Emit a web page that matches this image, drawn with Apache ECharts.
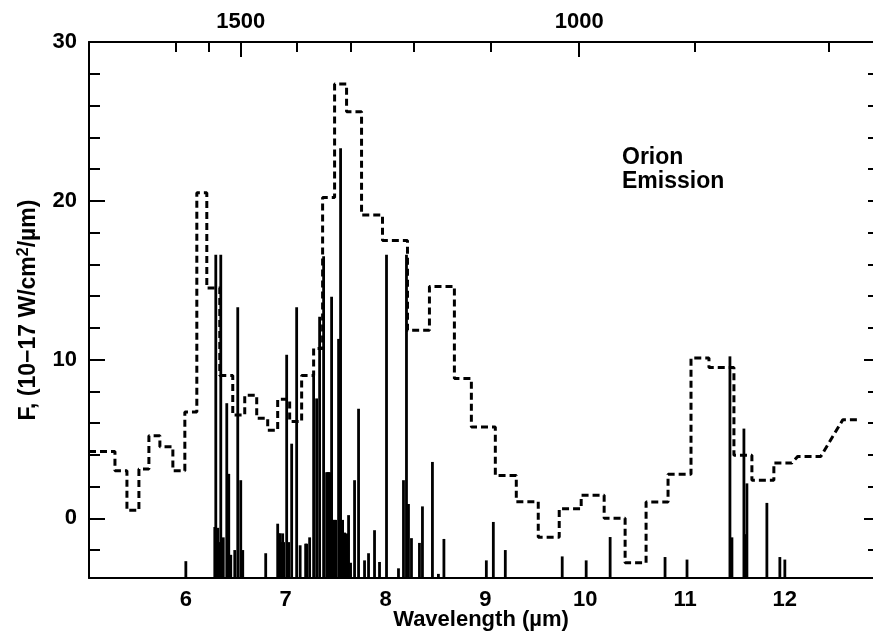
<!DOCTYPE html>
<html><head><meta charset="utf-8">
<script src="https://cdn.jsdelivr.net/npm/echarts@6/dist/echarts.min.js"></script>
<style>html,body{margin:0;padding:0;background:#fff}#c{width:873px;height:637px}</style>
</head><body><div id="c"></div>
<script>
// ---- Orion emission (dashed step spectrum): bin edges in µm and bin levels ----
const binEdges = [5.03,5.29,5.41,5.53,5.63,5.74,5.87,5.99,6.11,6.21,6.34,6.47,6.59,6.71,6.82,6.92,7.04,7.16,7.28,7.37,7.49,7.61,7.76,7.97,8.22,8.44,8.69,8.86,9.10,9.31,9.53,9.74,9.96,10.19,10.40,10.61,10.83,11.06,11.24,11.49,11.67,11.89];
const binLevels = [4.2,3.0,0.5,3.1,5.2,4.5,3.0,6.7,20.5,14.5,9.0,6.5,7.75,6.3,5.55,7.5,6.1,9.0,10.7,20.2,27.35,25.6,19.1,17.5,11.85,14.6,8.8,5.75,2.7,1.05,-1.2,0.6,1.45,0.0,-2.8,1.03,2.77,10.1,9.5,3.97,2.39];
// tail of the emission curve (non-step part)
const tailX = [11.89,12.07,12.13,12.36,12.58,12.73];
const tailY = [3.49,3.49,3.9,3.9,6.2,6.2];

// ---- computed line spectrum (sticks): wavelength µm and height ----
const stickX = [6.00,6.29,6.30,6.32,6.34,6.35,6.36,6.375,6.41,6.43,6.45,6.49,6.52,6.55,6.57,6.80,
  6.92,6.935,6.945,6.955,6.97,6.98,7.01,7.03,7.06,7.11,7.145,7.20,7.21,7.24,7.28,7.31,7.34,7.38,
  7.41,7.42,7.43,7.44,7.46,7.47,7.49,7.50,7.53,7.55,7.57,7.59,7.61,7.63,7.65,7.69,7.73,7.79,7.83,7.89,7.94,
  8.01,8.13,8.18,8.21,8.23,8.26,8.34,8.37,8.47,8.53,8.585,9.01,9.08,9.20,9.77,10.01,10.25,10.80,11.02,
  11.45,11.47,11.59,11.60,11.62,11.82,11.95,12.00];
const stickH = [-2.7,-0.55,16.6,-0.6,-1.5,16.6,-2.0,-1.2,7.25,2.8,-2.3,-2.0,13.3,2.4,-2.0,-2.2,
  -0.34,-0.95,-0.95,-1.5,-0.95,-1.5,10.3,-1.5,4.7,13.3,-1.7,-1.6,-1.6,-1.2,9.0,7.55,12.7,16.5,
  2.9,2.9,2.9,2.9,13.95,-0.1,-0.1,-0.1,11.3,23.3,-0.1,-0.9,-0.95,0.2,-2.8,2.4,6.9,-2.65,-2.2,-0.75,-2.75,
  16.6,-3.15,2.4,16.6,0.9,-1.25,-1.55,0.75,3.55,-3.5,-1.3,-2.65,-0.23,-2.0,-2.4,-2.65,-1.18,-2.44,-2.6,
  10.2,-1.2,5.65,-1.0,2.2,0.97,-2.44,-2.6];

// ---- axes ----
const xMin = 5.03, xMax = 12.883;
const yMin = -3.76, yMax = 30;
const xLabels = [6,7,8,9,10,11,12];
const yLabels = [0,10,20,30];
const yMinorTicks = [-2,2,4,6,8,12,14,16,18,22,24,26,28];
const yRightMajor = [0,10];
const yRightMinor = [-2,2,4,6,8,12,14,16,18,20,22,24,26,28];
// top axis (wavenumber, cm^-1), positions as read on the wavelength scale
const topMajorPos = [6.55,9.94];
const topLabels = ['1500','1000'];
const topMinorPos = [5.90,6.23,7.11,7.65,8.28,9.05,11.10,12.44];

const FONT = '"Liberation Sans", Arial, Helvetica, sans-serif';

const stepPts = [];
for (let i = 0; i < binLevels.length; i++) {
  stepPts.push([binEdges[i], binLevels[i]]);
  stepPts.push([binEdges[i+1], binLevels[i]]);
}
for (let i = 0; i < tailX.length; i++) stepPts.push([tailX[i], tailY[i]]);

const sticks = stickX.map((x, i) => [x, stickH[i]]);

const lab = {color:'#000', fontFamily:FONT, fontWeight:'bold', fontSize:22};
const line = {show:true, onZero:false, lineStyle:{color:'#000', width:2}};
const noLine = {show:false, onZero:false};

const chart = echarts.init(document.getElementById('c'), null, {renderer:'canvas'});
chart.setOption({
  animation:false,
  backgroundColor:'#fff',
  grid:{left:89, right:0, top:42, bottom:59, containLabel:false, outerBoundsMode:'none'},
  xAxis:[
    {type:'value', min:xMin, max:xMax, position:'bottom',
     axisLine:line, axisTick:{show:false}, splitLine:{show:false},
     axisLabel:Object.assign({customValues:xLabels, margin:11}, lab),
     name:'Wavelength (µm)', nameLocation:'middle', nameGap:31, nameMoveOverlap:false,
     nameTextStyle:{color:'#000', fontFamily:FONT, fontWeight:'bold', fontSize:22}},
    {type:'value', min:xMin, max:xMax, position:'top',
     axisLine:line, splitLine:{show:false},
     axisTick:{show:true, inside:true, length:10, customValues:topMinorPos, lineStyle:{color:'#000', width:2}},
     axisLabel:{show:false}},
    {type:'value', min:xMin, max:xMax, position:'top',
     axisLine:noLine, splitLine:{show:false},
     axisTick:{show:true, inside:true, length:15, customValues:topMajorPos, lineStyle:{color:'#000', width:2}},
     axisLabel:Object.assign({customValues:topMajorPos, margin:9,
       formatter:v => { let k=0, d=1e9; topMajorPos.forEach((p,i)=>{ if (Math.abs(p-v)<d){d=Math.abs(p-v);k=i;} }); return topLabels[k]; }}, lab)}
  ],
  yAxis:[
    {type:'value', min:yMin, max:yMax, position:'left',
     axisLine:line, splitLine:{show:false},
     axisTick:{show:true, inside:true, length:16, customValues:yLabels, lineStyle:{color:'#000', width:2}},
     axisLabel:Object.assign({customValues:yLabels, margin:12}, lab),
     name:'F, (10−17 W/cm{sup|2}/µm)', nameLocation:'middle', nameGap:48, nameMoveOverlap:false,
     nameTextStyle:{color:'#000', fontFamily:FONT, fontWeight:'bold', fontSize:23,
       rich:{sup:{fontFamily:FONT, fontWeight:'bold', fontSize:16, verticalAlign:'top', padding:[0,0,9,0]}}}},
    {type:'value', min:yMin, max:yMax, position:'left',
     axisLine:noLine, splitLine:{show:false},
     axisTick:{show:true, inside:true, length:11, customValues:yMinorTicks, lineStyle:{color:'#000', width:2}},
     axisLabel:{show:false}},
    {type:'value', min:yMin, max:yMax, position:'right',
     axisLine:noLine, splitLine:{show:false},
     axisTick:{show:true, inside:true, length:5, customValues:yRightMinor, lineStyle:{color:'#000', width:2}},
     axisLabel:{show:false}},
    {type:'value', min:yMin, max:yMax, position:'right',
     axisLine:noLine, splitLine:{show:false},
     axisTick:{show:true, inside:true, length:9, customValues:yRightMajor, lineStyle:{color:'#000', width:2}},
     axisLabel:{show:false}}
  ],
  graphic:[
    {type:'text', left:622, top:146,
     style:{text:'Orion\nEmission', fill:'#000', font:'bold 23px ' + FONT, lineHeight:24}}
  ],
  series:[
    {type:'custom', name:'Lines', xAxisIndex:0, yAxisIndex:0, data:sticks, clip:true,
     encode:{x:0, y:1},
     renderItem:(params, api) => {
       const x = api.value(0), h = api.value(1);
       const p0 = api.coord([x, yMin]);
       const p1 = api.coord([x, h]);
       return {type:'line', shape:{x1:p0[0], y1:p0[1], x2:p1[0], y2:p1[1]},
               style:{stroke:'#000', lineWidth:2.8}};
     }},
    {type:'line', name:'Orion Emission', xAxisIndex:0, yAxisIndex:0, data:stepPts,
     showSymbol:false, symbol:'none',
     lineStyle:{color:'#000', width:3, type:[7,4]}}
  ]
});
</script>
</body></html>
